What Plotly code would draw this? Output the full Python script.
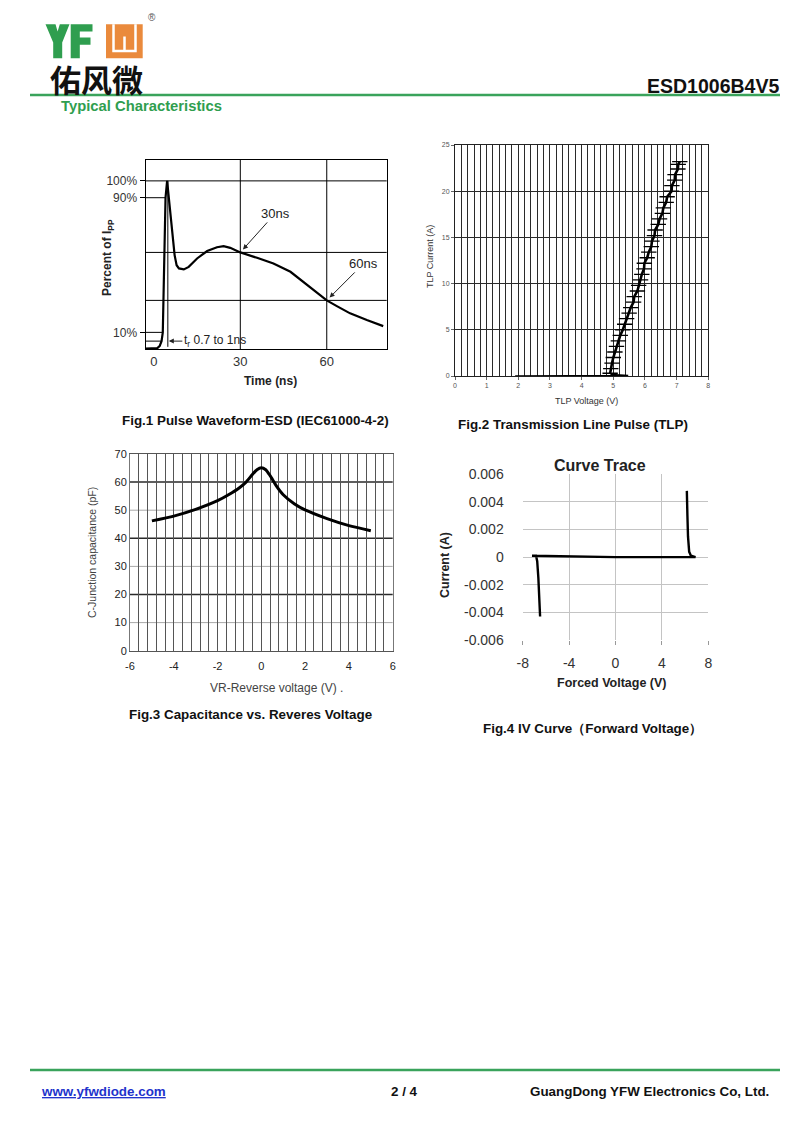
import plotly.graph_objects as go

W, H = 800, 1131
def px(x): return x / W
def py(y): return 1 - y / H

FONT = "Liberation Sans, Arial, Helvetica, sans-serif"
CJK = "Noto Sans CJK SC, Noto Sans CJK JP, sans-serif"
GREEN = "#2f9e4f"
LINEGREEN = "#3aa35b"
ORANGE = "#ea8a3c"

# ---------------- Fig.1 Pulse waveform (schematic, % of Ipp vs ns) ----------------
f1_t = [-2.9, 0.0, 1.2, 2.0, 2.67, 3.1, 3.5, 4.05, 4.6, 5.5, 6.4, 7.2, 7.9, 8.7, 10.4, 12.1,
        15.0, 18.5, 21.9, 24.2, 26.5, 30.0, 35.8, 41.5, 47.4, 51.9, 56.6, 60.0, 63.5, 68.1, 73.9, 79.6]
f1_i = [0.3, 0.3, 0.6, 1.8, 4.8, 10.0, 40.0, 90.0, 100.0, 83.6, 69.7, 55.9, 49.9, 48.0, 47.4, 48.9,
        53.9, 58.3, 60.6, 61.2, 60.2, 57.5, 54.3, 50.9, 46.0, 40.0, 33.5, 29.0, 25.6, 21.3, 17.3, 13.7]
f1_xrange = [-2.9, 80.8]
f1_yrange = [0, 112.7]
f1_xticks = [0, 30, 60]
f1_xticktext = ["0", "30", "60"]
f1_yticks = [10, 90, 100]
f1_yticktext = ["10%", "90%", "100%"]
f1_xgrid = [30, 60]
f1_ygrid = [29, 57.5, 100]
f1_levels = [90, 10, 4.8]          # short level markers from the axis
f1_level_end = [4.05, 3.1, 2.67]   # where they meet the rising edge
f1_tr_t = [4.85, 4.85]             # rise-time reference line
f1_tr_i = [1.4, 100]

# ---------------- Fig.2 TLP ----------------
f2_base_v = [1.9, 5.47, 4.95, 4.9]
f2_base_i = [0.0, 0.05, 0.15, 0.3]
f2_v = [4.90, 4.92, 4.96, 5.00, 5.05, 5.10, 5.16, 5.22, 5.30, 5.36, 5.42, 5.50, 5.55, 5.64, 5.66,
        5.76, 5.80, 5.86, 5.90, 5.97, 5.98, 6.07, 6.12, 6.20, 6.22, 6.30, 6.32, 6.42, 6.46, 6.55,
        6.58, 6.67, 6.70, 6.84, 6.85, 6.94, 6.95, 7.04, 7.05, 7.10]
f2_i = [0.3, 0.8, 1.4, 2.0, 2.6, 3.2, 3.8, 4.4, 5.0, 5.6, 6.2, 6.8, 7.4, 8.0, 8.6,
        9.2, 9.8, 10.4, 11.0, 11.6, 12.2, 12.8, 13.4, 14.0, 14.6, 15.2, 15.8, 16.4, 17.0, 17.6,
        18.2, 18.8, 19.4, 20.0, 20.6, 21.2, 21.8, 22.4, 22.9, 23.2]

# ---------------- Fig.3 Capacitance ----------------
f3_v = [-5, -4, -3, -2, -1.5, -1, -0.7, -0.4, -0.2, 0, 0.2, 0.4, 0.7, 1, 1.5, 2, 3, 4, 5]
f3_c = [46.2, 47.9, 50.3, 53.4, 55.5, 58.0, 60.0, 62.8, 64.4, 65.1, 64.4, 62.3, 58.5, 55.5,
        52.3, 50.1, 47.0, 44.5, 42.7]
f3_xticks = [-6, -4, -2, 0, 2, 4, 6]
f3_xticktext = ["-6", "-4", "-2", "0", "2", "4", "6"]
f3_yticks = [0, 10, 20, 30, 40, 50, 60, 70]
f3_light_y = [10, 30, 50]
f3_dark_y = [20, 40, 60]

# ---------------- Fig.4 IV curve ----------------
f4_v = [-6.5, -6.55, -6.65, -6.75, -6.85, -7.2, 0.0, 6.9, 6.5, 6.35, 6.25, 6.2, 6.15]
f4_i = [-0.0043, -0.003, -0.0015, -0.0003, 0.0001, 0.0001, 0.0, 0.0, 0.0001, 0.0004, 0.0015, 0.003, 0.0048]
f4_xticks = [-8, -4, 0, 4, 8]
f4_xticktext = ["-8", "-4", "0", "4", "8"]
f4_yticks = [-0.006, -0.004, -0.002, 0, 0.002, 0.004, 0.006]
f4_yticktext = ["-0.006", "-0.004", "-0.002", "0", "0.002", "0.004", "0.006"]

fig = go.Figure()

# Fig.1 traces
fig.add_trace(go.Scatter(x=f1_t, y=f1_i, mode="lines", line=dict(color="black", width=2.2),
                         xaxis="x", yaxis="y", hoverinfo="skip"))
for lv, end in zip(f1_levels, f1_level_end):
    fig.add_trace(go.Scatter(x=[f1_xrange[0], end], y=[lv, lv], mode="lines",
                             line=dict(color="black", width=1), xaxis="x", yaxis="y", hoverinfo="skip"))
fig.add_trace(go.Scatter(x=f1_tr_t, y=f1_tr_i, mode="lines", line=dict(color="black", width=1),
                         xaxis="x", yaxis="y", hoverinfo="skip"))

# Fig.2 traces
fig.add_trace(go.Scatter(x=f2_base_v, y=f2_base_i, mode="lines", line=dict(color="black", width=1.6),
                         xaxis="x2", yaxis="y2", hoverinfo="skip"))
fig.add_trace(go.Scatter(x=f2_v, y=f2_i, mode="lines+markers", line=dict(color="black", width=2.6),
                         marker=dict(symbol="line-ew", size=11, line=dict(color="black", width=1.3)),
                         xaxis="x2", yaxis="y2", hoverinfo="skip"))

# Fig.3
fig.add_trace(go.Scatter(x=f3_v, y=f3_c, mode="lines", line=dict(color="black", width=3, shape="spline", smoothing=0.6),
                         xaxis="x3", yaxis="y3", hoverinfo="skip"))

# Fig.4
fig.add_trace(go.Scatter(x=f4_v, y=f4_i, mode="lines", line=dict(color="black", width=2.4),
                         xaxis="x4", yaxis="y4", hoverinfo="skip"))

tick_font = lambda s, c="#333": dict(family=FONT, size=s, color=c)

layout = dict(
    width=W, height=H, margin=dict(l=0, r=0, t=0, b=0, pad=0, autoexpand=False),
    paper_bgcolor="white", plot_bgcolor="white", showlegend=False,
    font=dict(family=FONT),
    # Fig.1
    xaxis=dict(domain=[px(145.5), px(386.7)], range=f1_xrange, anchor="y",
               tickvals=f1_xticks, ticktext=f1_xticktext, showgrid=False, zeroline=False,
               showline=True, mirror=True, linecolor="black", linewidth=1, ticks="",
               tickfont=tick_font(13)),
    yaxis=dict(domain=[py(349.2), py(159.5)], range=f1_yrange, anchor="x",
               tickvals=f1_yticks, ticktext=f1_yticktext, showgrid=False, zeroline=False,
               showline=True, mirror=True, linecolor="black", linewidth=1,
               ticks="outside", ticklen=5, tickcolor="black", tickfont=tick_font(12)),
    # Fig.2
    xaxis2=dict(domain=[px(455), px(708.3)], range=[0, 8], anchor="y2", dtick=1, tick0=0,
                showgrid=True, gridcolor="#2a2a2a", gridwidth=1, zeroline=False,
                minor=dict(dtick=0.2, tick0=0, showgrid=True, gridcolor="#2a2a2a", gridwidth=1),
                showline=True, mirror=True, linecolor="#222", linewidth=1,
                ticks="outside", ticklen=3, tickcolor="#666", tickfont=tick_font(7, "#555")),
    yaxis2=dict(domain=[py(376), py(145)], range=[0, 25], anchor="x2", dtick=5, tick0=0,
                showgrid=True, gridcolor="#2a2a2a", gridwidth=1.4, zeroline=False,
                showline=True, mirror=True, linecolor="#222", linewidth=1,
                ticks="outside", ticklen=3, tickcolor="#666", tickfont=tick_font(7, "#555")),
    # Fig.3
    xaxis3=dict(domain=[px(130), px(392.7)], range=[-6, 6], anchor="y3",
                tickvals=f3_xticks, ticktext=f3_xticktext,
                showgrid=True, gridcolor="#555", gridwidth=1, zeroline=False,
                minor=dict(dtick=0.4, tick0=-6, showgrid=True, gridcolor="#555", gridwidth=1),
                showline=True, mirror=True, linecolor="#555", linewidth=1,
                ticks="outside", ticklen=5, tickcolor="rgba(0,0,0,0)", tickfont=tick_font(11, "#222")),
    yaxis3=dict(domain=[py(650.7), py(454)], range=[0, 70], anchor="x3", tickvals=f3_yticks,
                showgrid=False, zeroline=False,
                showline=True, mirror=True, linecolor="#777", linewidth=1,
                ticks="", tickfont=tick_font(11, "#222")),
    # Fig.4
    xaxis4=dict(domain=[px(522.7), px(708.3)], range=[-8, 8], anchor="y4",
                tickvals=f4_xticks, ticktext=f4_xticktext, showgrid=True, gridcolor="#c4c4c4",
                zeroline=False, showline=False, ticks="outside", ticklen=4, tickcolor="#999",
                ticklabelstandoff=6, tickfont=tick_font(14, "#333")),
    yaxis4=dict(domain=[py(640), py(474.3)], range=[-0.006, 0.006], anchor="x4",
                tickvals=f4_yticks, ticktext=f4_yticktext, showgrid=True, gridcolor="#c4c4c4",
                zeroline=False, showline=False, ticks="", ticklabelstandoff=18,
                tickfont=tick_font(14, "#333")),
)
fig.update_layout(**layout)

shapes = []
# Fig.1 grid lines
for g in f1_xgrid:
    shapes.append(dict(type="line", xref="x", yref="y domain", x0=g, x1=g, y0=0, y1=1,
                       line=dict(color="black", width=1), layer="below"))
for g in f1_ygrid:
    shapes.append(dict(type="line", xref="x domain", yref="y", x0=0, x1=1, y0=g, y1=g,
                       line=dict(color="black", width=1), layer="below"))
# Fig.3 horizontal grid lines (light and dark alternate)
for g in f3_light_y:
    shapes.append(dict(type="line", xref="x3 domain", yref="y3", x0=0, x1=1, y0=g, y1=g,
                       line=dict(color="#a8a8a8", width=1), layer="below"))
for g in f3_dark_y:
    shapes.append(dict(type="line", xref="x3 domain", yref="y3", x0=0, x1=1, y0=g, y1=g,
                       line=dict(color="#2a2a2a", width=1.5), layer="below"))

def path(points, close=True):
    s = "M " + " L ".join(f"{px(x):.5f},{py(y):.5f}" for x, y in points)
    return s + (" Z" if close else "")

# header / footer rules
shapes.append(dict(type="line", xref="paper", yref="paper", x0=px(30), x1=px(780), y0=py(95), y1=py(95),
                   line=dict(color=LINEGREEN, width=2.5)))
shapes.append(dict(type="line", xref="paper", yref="paper", x0=px(30), x1=px(780), y0=py(1070), y1=py(1070),
                   line=dict(color=LINEGREEN, width=2.5)))
# logo letters Y, F and the orange mark
logoY = [(45.5, 24.3), (55.5, 24.3), (57.6, 31.5), (59.8, 24.3), (69.5, 24.3), (62.2, 42.5), (62.2, 58.3),
         (53.2, 58.3), (53.2, 42.5)]
logoF = [(70.7, 24.3), (92.5, 24.3), (92.5, 31.5), (79.8, 31.5), (79.8, 37.6), (90.5, 37.6), (90.5, 44.8),
         (79.8, 44.8), (79.8, 58.3), (70.7, 58.3)]
shapes.append(dict(type="path", xref="paper", yref="paper", path=path(logoY), fillcolor=GREEN,
                   line=dict(width=0)))
shapes.append(dict(type="path", xref="paper", yref="paper", path=path(logoF), fillcolor=GREEN,
                   line=dict(width=0)))
shapes.append(dict(type="rect", xref="paper", yref="paper", x0=px(106), x1=px(142.7), y0=py(58.3), y1=py(24.3),
                   fillcolor=ORANGE, line=dict(width=0)))
shapes.append(dict(type="path", xref="paper", yref="paper",
                   path=path([(113.5, 24.3), (113.5, 51), (135.5, 51), (135.5, 24.3)], close=False),
                   line=dict(color="white", width=2.5)))
shapes.append(dict(type="path", xref="paper", yref="paper",
                   path=path([(124.5, 36.5), (124.5, 51)], close=False),
                   line=dict(color="white", width=2.5)))
fig.update_layout(shapes=shapes)

ann = []
def text(x, y, t, size, color="#111", bold=False, anchor="center", angle=0, family=FONT, yanchor="middle"):
    ann.append(dict(xref="paper", yref="paper", x=px(x), y=py(y), text=(f"<b>{t}</b>" if bold else t),
                    showarrow=False, xanchor=anchor, yanchor=yanchor, textangle=angle,
                    font=dict(family=family, size=size, color=color), borderpad=0))

# header
text(96, 78, "佑风微", 31, "#111", bold=True, family=CJK)
text(151.5, 18, "®", 10, "#555")
text(780, 86, "ESD1006B4V5", 19.5, "#111", bold=True, anchor="right")
text(60, 106, "Typical Characteristics", 14.8, GREEN, bold=True, anchor="left")

# footer
text(40, 1091, "<u>www.yfwdiode.com</u>", 13.4, "#2233cc", bold=True, anchor="left")
text(404, 1091, "2 / 4", 13.4, "#111", bold=True)
text(770, 1091, "GuangDong YFW Electronics Co, Ltd.", 13.4, "#111", bold=True, anchor="right")

# Fig.1 texts
text(108, 258, "Percent of I<sub>PP</sub>", 12, "#222", bold=True, angle=-90)
text(270, 381, "Time (ns)", 12, "#222", bold=True)
text(255.5, 421, "Fig.1 Pulse Waveform-ESD (IEC61000-4-2)", 13.4, "#111", bold=True)
ann.append(dict(xref="x", yref="y", x=30, y=57.5, ax=35, ay=-39, text="30ns", showarrow=True,
                arrowhead=2, arrowsize=1, arrowwidth=1, arrowcolor="#222", standoff=4,
                font=dict(family=FONT, size=13, color="#222")))
ann.append(dict(xref="x", yref="y", x=60, y=29, ax=37, ay=-37, text="60ns", showarrow=True,
                arrowhead=2, arrowsize=1, arrowwidth=1, arrowcolor="#222", standoff=4,
                font=dict(family=FONT, size=13, color="#222")))
ann.append(dict(xref="x", yref="y", x=5.2, y=4.8, ax=46, ay=0, text="t<sub>r</sub> 0.7 to 1ns", showarrow=True,
                arrowhead=2, arrowsize=1, arrowwidth=1, arrowcolor="#222", standoff=0,
                font=dict(family=FONT, size=12, color="#222")))

# Fig.2 texts
text(430, 257, "TLP Current (A)", 9, "#333", angle=-90)
text(586, 400.7, "TLP Voltage (V)", 9, "#333")
text(573, 424, "Fig.2 Transmission Line Pulse (TLP)", 13.4, "#111", bold=True)

# Fig.3 texts
text(92, 553, "C-Junction capacitance (pF)", 10.5, "#444", angle=-90)
text(276, 688, "VR-Reverse voltage (V) .", 12, "#444")
text(250.5, 714, "Fig.3 Capacitance vs. Reveres Voltage", 13.4, "#111", bold=True)

# Fig.4 texts
text(600, 465, "Curve Trace", 16, "#222", bold=True)
text(445, 565, "Current (A)", 12.5, "#222", bold=True, angle=-90)
text(612, 683, "Forced Voltage (V)", 12.5, "#222", bold=True)
text(592.5, 728, "Fig.4 IV Curve（Forward Voltage）", 13.4, "#111", bold=True)

fig.update_layout(annotations=ann)
fig.write_html("out.html", config={"displayModeBar": False},
               post_script="document.body.style.margin='0';")
